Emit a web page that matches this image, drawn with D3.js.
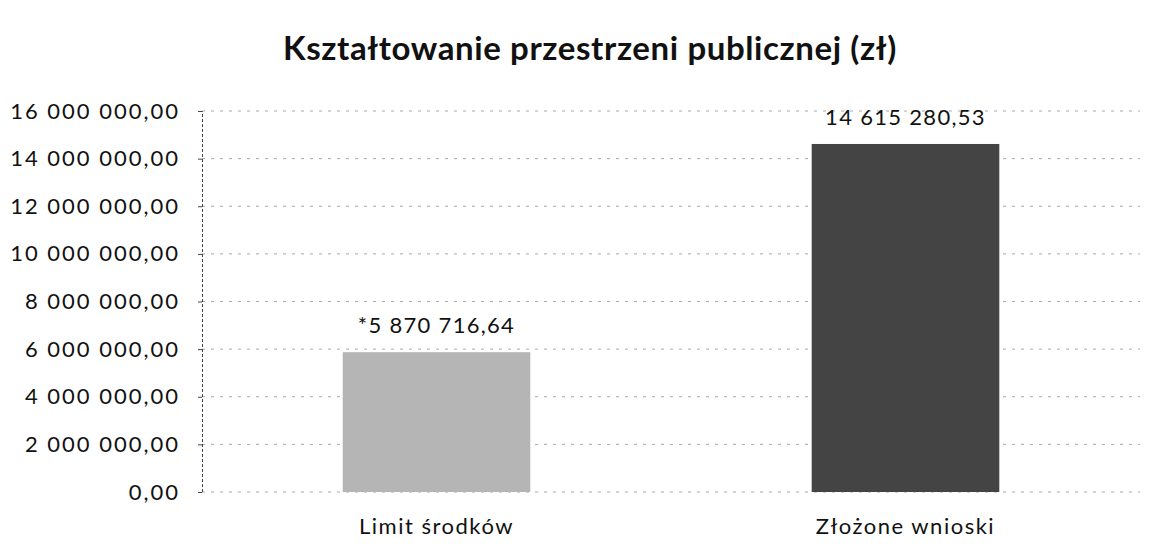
<!DOCTYPE html>
<html>
<head>
<meta charset="utf-8">
<script src="https://cdn.jsdelivr.net/npm/d3@7"></script>
<style>
  body { margin: 0; background: #fff; }
  text { font-family: Lato, "Open Sans", sans-serif; fill: #111; }
</style>
</head>
<body>
<div class="chart"></div>
<script>
// chart data
var categories = ["Limit środków", "Złożone wnioski"];
var values = [5870716.64, 14615280.53];
var valueLabels = ["*5 870 716,64", "14 615 280,53"];
var barColors = ["#b5b5b5", "#444444"];
var yTicks = [0, 2000000, 4000000, 6000000, 8000000, 10000000, 12000000, 14000000, 16000000];
var chartTitle = "Kształtowanie przestrzeni publicznej (zł)";

var svgWidth = 1159;
var svgHeight = 551;
var margin = { top: 111, right: 19, bottom: 59, left: 202 };
var width = svgWidth - margin.left - margin.right;
var height = svgHeight - margin.top - margin.bottom;

var svg = d3.select(".chart")
    .append("svg")
    .attr("width", svgWidth)
    .attr("height", svgHeight);

var chartGroup = svg.append("g")
    .attr("transform", `translate(${margin.left}, ${margin.top})`);

// polish number format: space thousands, comma decimals
var pl = d3.formatLocale({ decimal: ",", thousands: " ", grouping: [3], currency: ["", ""] });
var fmt = pl.format(",.2f");

var xScale = d3.scaleBand()
    .domain(categories)
    .range([0, width])
    .paddingInner(0.6)
    .paddingOuter(0.3);

var yScale = d3.scaleLinear()
    .domain([0, 16000000])
    .range([height, 0]);

// gridlines
chartGroup.append("g")
    .selectAll("line")
    .data(yTicks)
    .join("line")
    .attr("x1", 0)
    .attr("x2", width)
    .attr("y1", d => yScale(d))
    .attr("y2", d => yScale(d))
    .attr("stroke", "#a8a8a8")
    .attr("stroke-width", 1)
    .attr("stroke-dasharray", "3,6");

// y axis
var yAxis = chartGroup.append("g")
    .call(d3.axisLeft(yScale).tickValues(yTicks).tickFormat(fmt).tickSize(4).tickPadding(18));
yAxis.select(".domain").attr("stroke", "#444").attr("stroke-dasharray", "3,2");
yAxis.selectAll(".tick line").attr("stroke", "#444");
yAxis.selectAll("text")
    .attr("font-size", "22px")
    .attr("letter-spacing", "2px")
    .attr("fill", "#111");

// bars
chartGroup.selectAll("rect.bar")
    .data(values)
    .join("rect")
    .attr("class", "bar")
    .attr("x", (d, i) => xScale(categories[i]))
    .attr("y", d => yScale(d))
    .attr("width", xScale.bandwidth())
    .attr("height", d => height - yScale(d))
    .attr("fill", (d, i) => barColors[i]);

// value labels
chartGroup.selectAll("text.val")
    .data(values)
    .join("text")
    .attr("class", "val")
    .attr("x", (d, i) => xScale(categories[i]) + xScale.bandwidth() / 2)
    .attr("y", d => yScale(d) - 19)
    .attr("text-anchor", "middle")
    .attr("font-size", "22px")
    .attr("letter-spacing", "1.3px")
    .text((d, i) => valueLabels[i]);

// category labels
chartGroup.selectAll("text.cat")
    .data(categories)
    .join("text")
    .attr("class", "cat")
    .attr("x", d => xScale(d) + xScale.bandwidth() / 2)
    .attr("y", height + 42)
    .attr("text-anchor", "middle")
    .attr("font-size", "22px")
    .attr("letter-spacing", "1.5px")
    .text(d => d);

// title
svg.append("text")
    .attr("x", 590)
    .attr("y", 60)
    .attr("text-anchor", "middle")
    .attr("font-size", "33px")
    .attr("font-weight", "bold")
    .attr("letter-spacing", "0.6px")
    .text(chartTitle);
</script>
</body>
</html>
